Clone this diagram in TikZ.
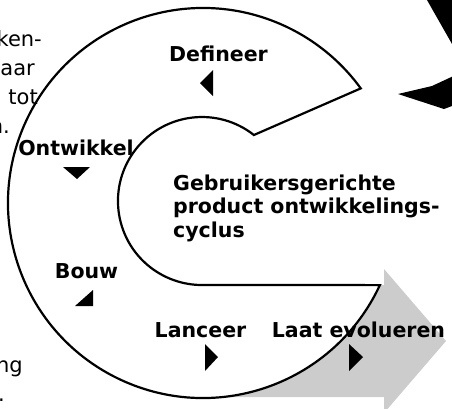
\documentclass[tikz,border=0pt]{standalone}
\usepackage{fontspec}
\setmainfont{DejaVu Sans}
\definecolor{arrowgray}{RGB}{204,204,204}
\begin{document}
\begin{tikzpicture}[x=1pt,y=-1pt,
  lbl/.style={font=\fontsize{20.5}{24}\selectfont\bfseries, inner sep=0pt, anchor=base},
  side/.style={font=\fontsize{21}{25}\selectfont, inner sep=0pt, anchor=base east},
  ctr/.style={font=\fontsize{20.5}{24}\selectfont\bfseries, inner sep=0pt, anchor=base west},
  tri/.style={fill=black},
  cline/.style={draw=black, line width=2.2pt, line join=miter}]
\useasboundingbox (0,0) rectangle (452,408);
\clip (0,0) rectangle (452,408);
\def\cpath{([shift={(203,203)}]-36:195) -- (253.9,135) arc[start angle=-51.8, end angle=-270, radius=84] -- ([shift={(203,203)}]24.9:195) arc[start angle=24.9, end angle=324, radius=195] -- cycle}
% gray arrow
\fill[arrowgray] (200,285) -- (384,285) -- (384,269) -- (446,341) -- (384,413) -- (384,397) -- (200,397) -- cycle;
% C shape fill
\fill[white] \cpath;
% black shapes top right
\fill (424.7,-4) -- (460,-4) -- (460,58) -- cycle;
\fill (398,94) -- (432,86) -- (460,73) -- (460,103) -- (444,109) -- cycle;
% side texts
\node[side] (s1) at (42,46) {ken-};
\node[side] (s2) at (35,75) {aar};
\node[side] (s3) at (38,104) {tot};
\node[side] (s4) at (10,133) {n.};
\node[side] (s5) at (23,372) {ng};
\node[side] (s6) at (5,401) {.};
% C shape outline
\draw[cline] \cpath;
% labels
\node[lbl] (def) at (218.5,61) {Defineer};
\node[lbl] (ont) at (76,155) {Ontwikkel};
\node[lbl] (bou) at (86.5,278) {Bouw};
\node[lbl] (lan) at (200.5,337) {Lanceer};
\node[lbl] (evo) at (358.5,337) {Laat evolueren};
\node[ctr] (c1) at (173,190) {Gebruikersgerichte};
\node[ctr] (c2) at (173,213.5) {product ontwikkelings-};
\node[ctr] (c3) at (173,237) {cyclus};
% triangles
\fill[tri] (200,83) -- (213,70) -- (213,96) -- cycle;
\fill[tri] (63,167) -- (90,167) -- (77,179) -- cycle;
\fill[tri] (75,306) -- (93,306) -- (93,290) -- cycle;
\fill[tri] (205,344) -- (205,371) -- (218,357) -- cycle;
\fill[tri] (349,344) -- (349,371) -- (363,357) -- cycle;
\end{tikzpicture}
\end{document}
